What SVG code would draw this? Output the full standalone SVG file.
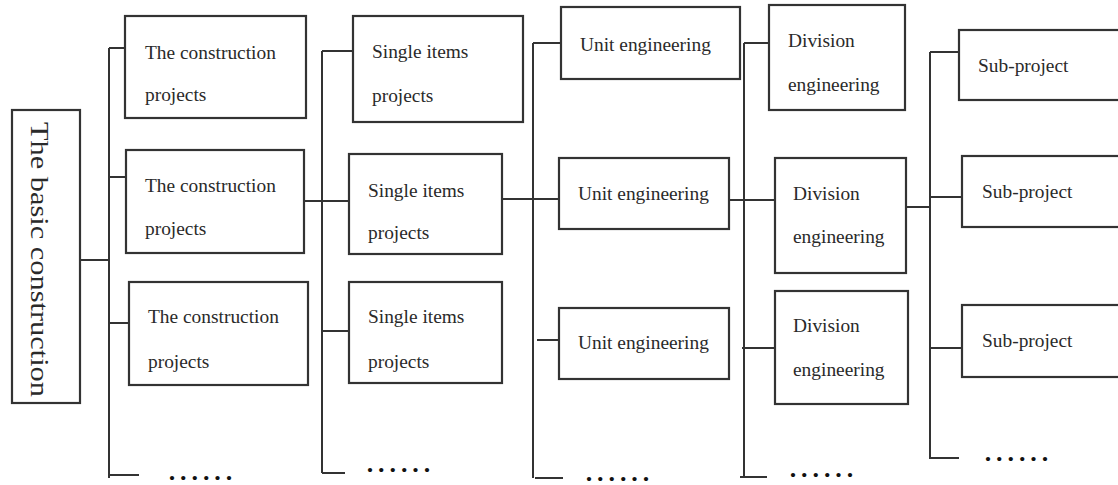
<svg xmlns="http://www.w3.org/2000/svg" width="1118" height="485" viewBox="0 0 1118 485">
<style>
.box{fill:#fff;stroke:#333;stroke-width:2.2}
.t{font-family:"Liberation Serif","Times New Roman",serif;font-size:19.4px;fill:#2a2a2a}
.rt{font-family:"Liberation Serif","Times New Roman",serif;font-size:25.5px;fill:#2a2a2a}
.dots{font-family:"Liberation Serif","Times New Roman",serif;font-size:26px;font-weight:bold;fill:#111;letter-spacing:4.9px}
.ln{fill:none;stroke:#333;stroke-width:2}
</style>
<rect width="1118" height="485" fill="#fff"/>
<g id="connectors">
<path class="ln" d="M80 260H109M109 48V478M109 48H137M109 177H126M109 323H129M109 475H139"/>
<path class="ln" d="M322 51V473M322 51H353M304 201H349M322 331H349M322 473H345"/>
<path class="ln" d="M533 43V478M533 43H561M503 199H559M537 340H559M535 478H563"/>
<path class="ln" d="M744 43V477M744 43H769M729 200H775M742 348H775M740 477H767"/>
<path class="ln" d="M930 52V459M930 52H959M906 207H930M930 197H962M930 348H962M930 458H959"/>
</g>
<g id="root">
<rect class="box" x="12" y="110" width="68" height="293"/>
<text class="rt" transform="translate(31,122) rotate(90)" textLength="275" lengthAdjust="spacingAndGlyphs">The basic construction</text>
</g>
<g id="c1b1"><rect class="box" x="125" y="16" width="181" height="102"/><text class="t" x="145" y="59">The construction</text><text class="t" x="145" y="101">projects</text></g>
<g id="c1b2"><rect class="box" x="126" y="150" width="178" height="103"/><text class="t" x="145" y="192">The construction</text><text class="t" x="145" y="235">projects</text></g>
<g id="c1b3"><rect class="box" x="129" y="282" width="179" height="103"/><text class="t" x="148" y="323">The construction</text><text class="t" x="148" y="368">projects</text></g>
<g id="c1dots"><text class="dots" x="168.7" y="480">......</text></g>
<g id="c2b1"><rect class="box" x="353" y="16" width="170" height="106"/><text class="t" x="372" y="58">Single items</text><text class="t" x="372" y="102">projects</text></g>
<g id="c2b2"><rect class="box" x="349" y="154" width="153" height="100"/><text class="t" x="368" y="197">Single items</text><text class="t" x="368" y="239">projects</text></g>
<g id="c2b3"><rect class="box" x="349" y="282" width="153" height="101"/><text class="t" x="368" y="323">Single items</text><text class="t" x="368" y="368">projects</text></g>
<g id="c2dots"><text class="dots" x="366.7" y="472">......</text></g>
<g id="c3b1"><rect class="box" x="561" y="7" width="179" height="72"/><text class="t" x="580" y="51">Unit engineering</text></g>
<g id="c3b2"><rect class="box" x="559" y="158" width="170" height="71"/><text class="t" x="578" y="200">Unit engineering</text></g>
<g id="c3b3"><rect class="box" x="559" y="308" width="170" height="71"/><text class="t" x="578" y="349">Unit engineering</text></g>
<g id="c3dots"><text class="dots" x="585.7" y="481">......</text></g>
<g id="c4b1"><rect class="box" x="769" y="5" width="136" height="105"/><text class="t" x="788" y="47">Division</text><text class="t" x="788" y="91">engineering</text></g>
<g id="c4b2"><rect class="box" x="775" y="158" width="131" height="115"/><text class="t" x="793" y="200">Division</text><text class="t" x="793" y="243">engineering</text></g>
<g id="c4b3"><rect class="box" x="775" y="291" width="133" height="113"/><text class="t" x="793" y="332">Division</text><text class="t" x="793" y="376">engineering</text></g>
<g id="c4dots"><text class="dots" x="789.7" y="477">......</text></g>
<g id="c5b1"><rect class="box" x="959" y="30" width="170" height="70"/><text class="t" x="978" y="72">Sub-project</text></g>
<g id="c5b2"><rect class="box" x="962" y="156" width="170" height="71"/><text class="t" x="982" y="198">Sub-project</text></g>
<g id="c5b3"><rect class="box" x="962" y="305" width="170" height="72"/><text class="t" x="982" y="347">Sub-project</text></g>
<g id="c5dots"><text class="dots" x="984.7" y="461">......</text></g>
</svg>
